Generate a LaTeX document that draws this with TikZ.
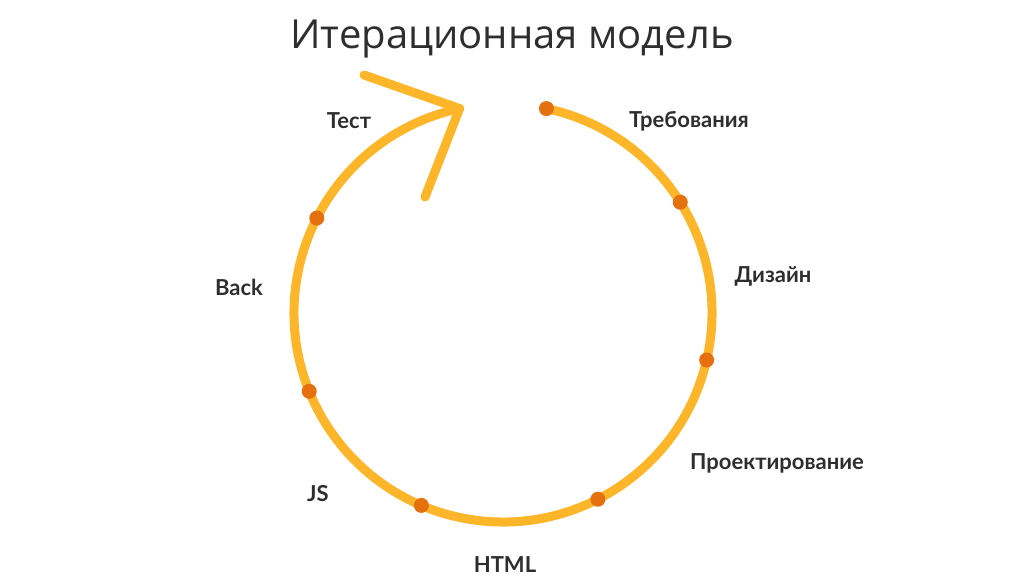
\documentclass[tikz,border=0pt]{standalone}
\usepackage{fontspec}
\setmainfont{Open Sans}
\newfontfamily\labelfont{Lato}
\usetikzlibrary{positioning}
\definecolor{ringyellow}{HTML}{FDB52A}
\definecolor{dotorange}{HTML}{E4700E}
\definecolor{inkgray}{HTML}{2E2E2E}
\tikzset{
	ring/.style={draw=ringyellow, line width=9pt, line cap=round, line join=round},
	dot/.style={circle, fill=dotorange, inner sep=0pt, minimum size=15pt},
	stage/.style={text=inkgray, font=\labelfont\bfseries\fontsize{22}{26}\selectfont}
}
\begin{document}
\begin{tikzpicture}[x=1pt, y=1pt]
		\useasboundingbox (0,0) rectangle (1024,576);
		\node[text=inkgray, font=\fontsize{40}{48}\selectfont] (title) at (512,537) {Итерационная модель};
		
		\begin{scope}[shift={(503,263)}]
		\coordinate (start) at (78:209);
		\coordinate (tip) at (102:209);
		\coordinate (wingA) at (-139,238);
		\coordinate (wingB) at (-78,116);
		
		\draw[ring] (start) arc[start angle=78, end angle=-258, radius=209];
		\path[ring]
		(tip) edge (wingA)
		(tip) edge (wingB);
		
		\node[dot] (d0) at (start) {};
		\node[dot] (d1) at (32:209) {};
		\node[dot] (d2) at (-13:209) {};
		\node[dot] (d3) at (-63:209) {};
		\node[dot] (d4) at (-113:209) {};
		\node[dot] (d5) at (-158:209) {};
		\node[dot] (d6) at (153:209) {};
		\end{scope}
		
		\node[stage] (req) at (689,455) {Требования};
		\node[stage] (design) at (773,300) {Дизайн};
		\node[stage] (proj) at (777,113) {Проектирование};
		\node[stage] (html) at (505,11) {HTML};
		\node[stage] (js) at (318,82) {JS};
		\node[stage] (back) at (239,289) {Back};
		\node[stage] (test) at (349,455) {Тест};
	\end{tikzpicture}
\end{document}
